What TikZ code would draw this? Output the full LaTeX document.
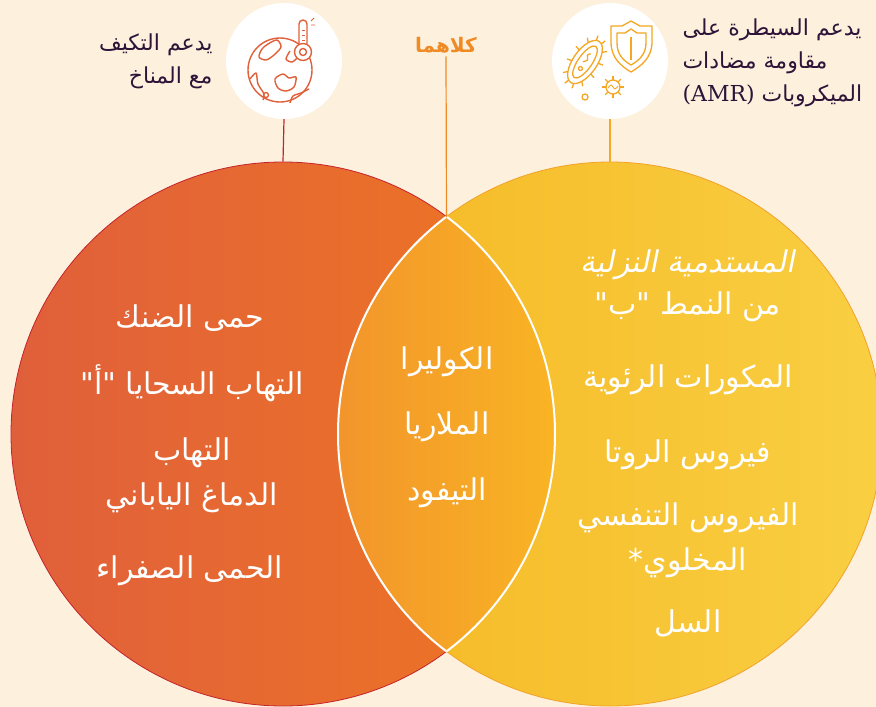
\documentclass[tikz,border=0pt]{standalone}
\usepackage{fontspec}
\usepackage{tikz}
\TeXXeTstate=1
\newfontfamily\arabicfont[Script=Arabic]{DejaVu Sans}
\newfontfamily\arabicslant[Script=Arabic,FakeSlant=0.2]{DejaVu Sans}
\newfontfamily\latinserif{DejaVu Serif}
\definecolor{paper}{HTML}{FDF1DE}
\definecolor{ink}{HTML}{2D1438}
\definecolor{leftA}{HTML}{E05F3B}
\definecolor{leftB}{HTML}{EE7624}
\definecolor{rightA}{HTML}{F5B825}
\definecolor{rightB}{HTML}{F9CF42}
\definecolor{lensA}{HTML}{F2952B}
\definecolor{lensB}{HTML}{F9B424}
\definecolor{leftrim}{HTML}{C4222C}
\definecolor{rightrim}{HTML}{F2A22A}
\definecolor{bothcol}{HTML}{F08A24}
\definecolor{globecol}{HTML}{E0603A}
\definecolor{germcol}{HTML}{F5A623}

\begin{document}
\begin{tikzpicture}[x=1pt,y=-1pt,
    bigset/.style={circle,minimum size=544pt,inner sep=0pt,line width=0.8pt},
    badge/.style={circle,fill=white,minimum size=116pt,inner sep=0pt},
    item/.style={text=white,align=center,font=\arabicfont\fontsize{30}{38}\selectfont},
    note/.style={text=ink,font=\arabicfont\fontsize{22}{33}\selectfont},
    leader/.style={line width=1.2pt}]

    % Background
    \fill[paper] (0,0) rectangle (876,707);
    \useasboundingbox (0,0) rectangle (876,707);

    % Two sets
    \node[bigset,left color=leftA,right color=leftB,draw=leftrim] (setL) at (283,434) {};
    \node[bigset,left color=rightA,right color=rightB,draw=rightrim] (setR) at (610,434) {};

    % Overlap
    \begin{scope}
        \clip (283,434) circle (272pt);
        \clip (610,434) circle (272pt);
        \shade[left color=lensA,right color=lensB] (338,150) rectangle (556,710);
    \end{scope}
    \begin{scope}
        \clip (283,434) circle (272pt);
        \draw[white,line width=2pt] (610,434) circle (272pt);
    \end{scope}
    \begin{scope}
        \clip (610,434) circle (272pt);
        \draw[white,line width=2pt] (283,434) circle (272pt);
    \end{scope}
    \coordinate (meet) at (446.5,217);

    % Badges
    \node[badge] (climate) at (284,61) {};
    \node[badge] (germs) at (610,61) {};
    \draw[leader,leftrim] (climate.south) -- (setL.north);
    \draw[leader,germcol!80!rightA] (germs.south) -- (setR.north);

    % Globe with thermometer
    \begin{scope}[globecol,line width=1.4pt,line join=round]
        \draw (280,70) circle (32pt);
        \draw plot[smooth cycle] coordinates {(268,44) (277,40) (281,47) (274,55) (266,60) (259,57) (262,49)};
        \draw plot[smooth cycle] coordinates {(275,79) (283,74) (289,78) (296,77) (294,87) (286,91) (278,88)};
        \draw plot[smooth] coordinates {(250,79) (256,73) (258,84) (264,94) (263,100)};
        \draw plot[smooth] coordinates {(290,103) (293,96) (301,93) (309,89)};
        \draw plot[smooth] coordinates {(290,51) (286,59) (292,62) (297,58)};
        \draw (266,95) circle (2.5pt);
        \draw[fill=white] (299,46) -- (299,24) arc[start angle=180,end angle=0,radius=4pt] -- (307,46);
        \draw[fill=white] (303,52) circle (8.5pt);
        \draw (303,52) circle (3.5pt);
        \draw[line width=0.8pt] (302,30) -- (305,30) (302,35) -- (305,35) (302,40) -- (305,40);
        \draw[line width=0.8pt] (311,25) -- (315,25) (311,21) -- (314,18);
    \end{scope}

    % Germs and shield
    \begin{scope}[germcol,line width=1.3pt,line join=round]
        \begin{scope}[rotate around={55:(585,62)}]
            \draw (585,62) ellipse (25pt and 12pt);
            \draw (585,62) ellipse (19pt and 7pt);
            \foreach \t in {15,45,...,345}
                \draw ({585+25*cos(\t)},{62+12*sin(\t)}) -- ({585+30*cos(\t)},{62+17*sin(\t)});
            \draw (577,62) circle (2pt);
            \draw plot[smooth] coordinates {(584,60) (588,63) (592,60) (595,62)};
        \end{scope}
        \draw (611,26) -- (622,26) -- (631,21) -- (640,26) -- (652,26) -- (652,42)
            .. controls (652,58) and (641,66) .. (631,72)
            .. controls (621,66) and (611,58) .. (611,42) -- cycle;
        \draw (617,33) -- (625,33) -- (631,29) -- (637,33) -- (646,33) -- (646,43)
            .. controls (646,55) and (638,61) .. (631,65)
            .. controls (624,61) and (617,55) .. (617,43) -- cycle;
        \draw (631,37) -- (631,60);
        \draw (613,87) circle (7pt);
        \foreach \a in {0,45,...,315}
            \draw ({613+7*cos(\a)},{87+7*sin(\a)}) -- ({613+11*cos(\a)},{87+11*sin(\a)});
        \draw[line width=0.9pt] plot[smooth] coordinates {(608,88) (611,85) (615,89) (618,86)};
        \draw (585,97) circle (3pt);
    \end{scope}

    % Labels above
    \node[note,anchor=east,align=right] (climatetext) at (216,61)
        {\beginR يدعم التكيف\endR\\\beginR مع المناخ\endR};
    \node[note,anchor=west,align=left] (germstext) at (679,63)
        {\beginR يدعم السيطرة على\endR\\\beginR مقاومة مضادات\endR\\{\latinserif (AMR)} \beginR الميكروبات\endR};
    \node[text=bothcol,font=\arabicfont\bfseries\fontsize{20}{24}\selectfont] (both) at (446,45) {\beginR كلاهما\endR};
    \draw[leader,bothcol] (both.south) -- (meet);

    % Left set
    \node[item] (dengue) at (190,318) {\beginR حمى الضنك\endR};
    \node[item] (menA) at (192,383) {\beginR التهاب السحايا "أ"\endR};
    \node[item] (je) at (192,475) {\beginR التهاب\endR\\[7pt]\beginR الدماغ الياباني\endR};
    \node[item] (yf) at (190,571) {\beginR الحمى الصفراء\endR};

    % Both
    \node[item] (cholera) at (447,362) {\beginR الكوليرا\endR};
    \node[item] (malaria) at (447,427) {\beginR الملاريا\endR};
    \node[item] (typhoid) at (447,493) {\beginR التيفود\endR};

    % Right set
    \node[item] (hib) at (688,286) {{\arabicslant\beginR المستدمية النزلية\endR}\\[4pt]\beginR من النمط "ب"\endR};
    \node[item] (pneumo) at (688,380) {\beginR المكورات الرئوية\endR};
    \node[item] (rota) at (688,455) {\beginR فيروس الروتا\endR};
    \node[item] (rsv) at (688,540) {\beginR الفيروس التنفسي\endR\\[7pt]\beginR المخلوي*\endR};
    \node[item] (tb) at (688,623) {\beginR السل\endR};
\end{tikzpicture}
\end{document}
